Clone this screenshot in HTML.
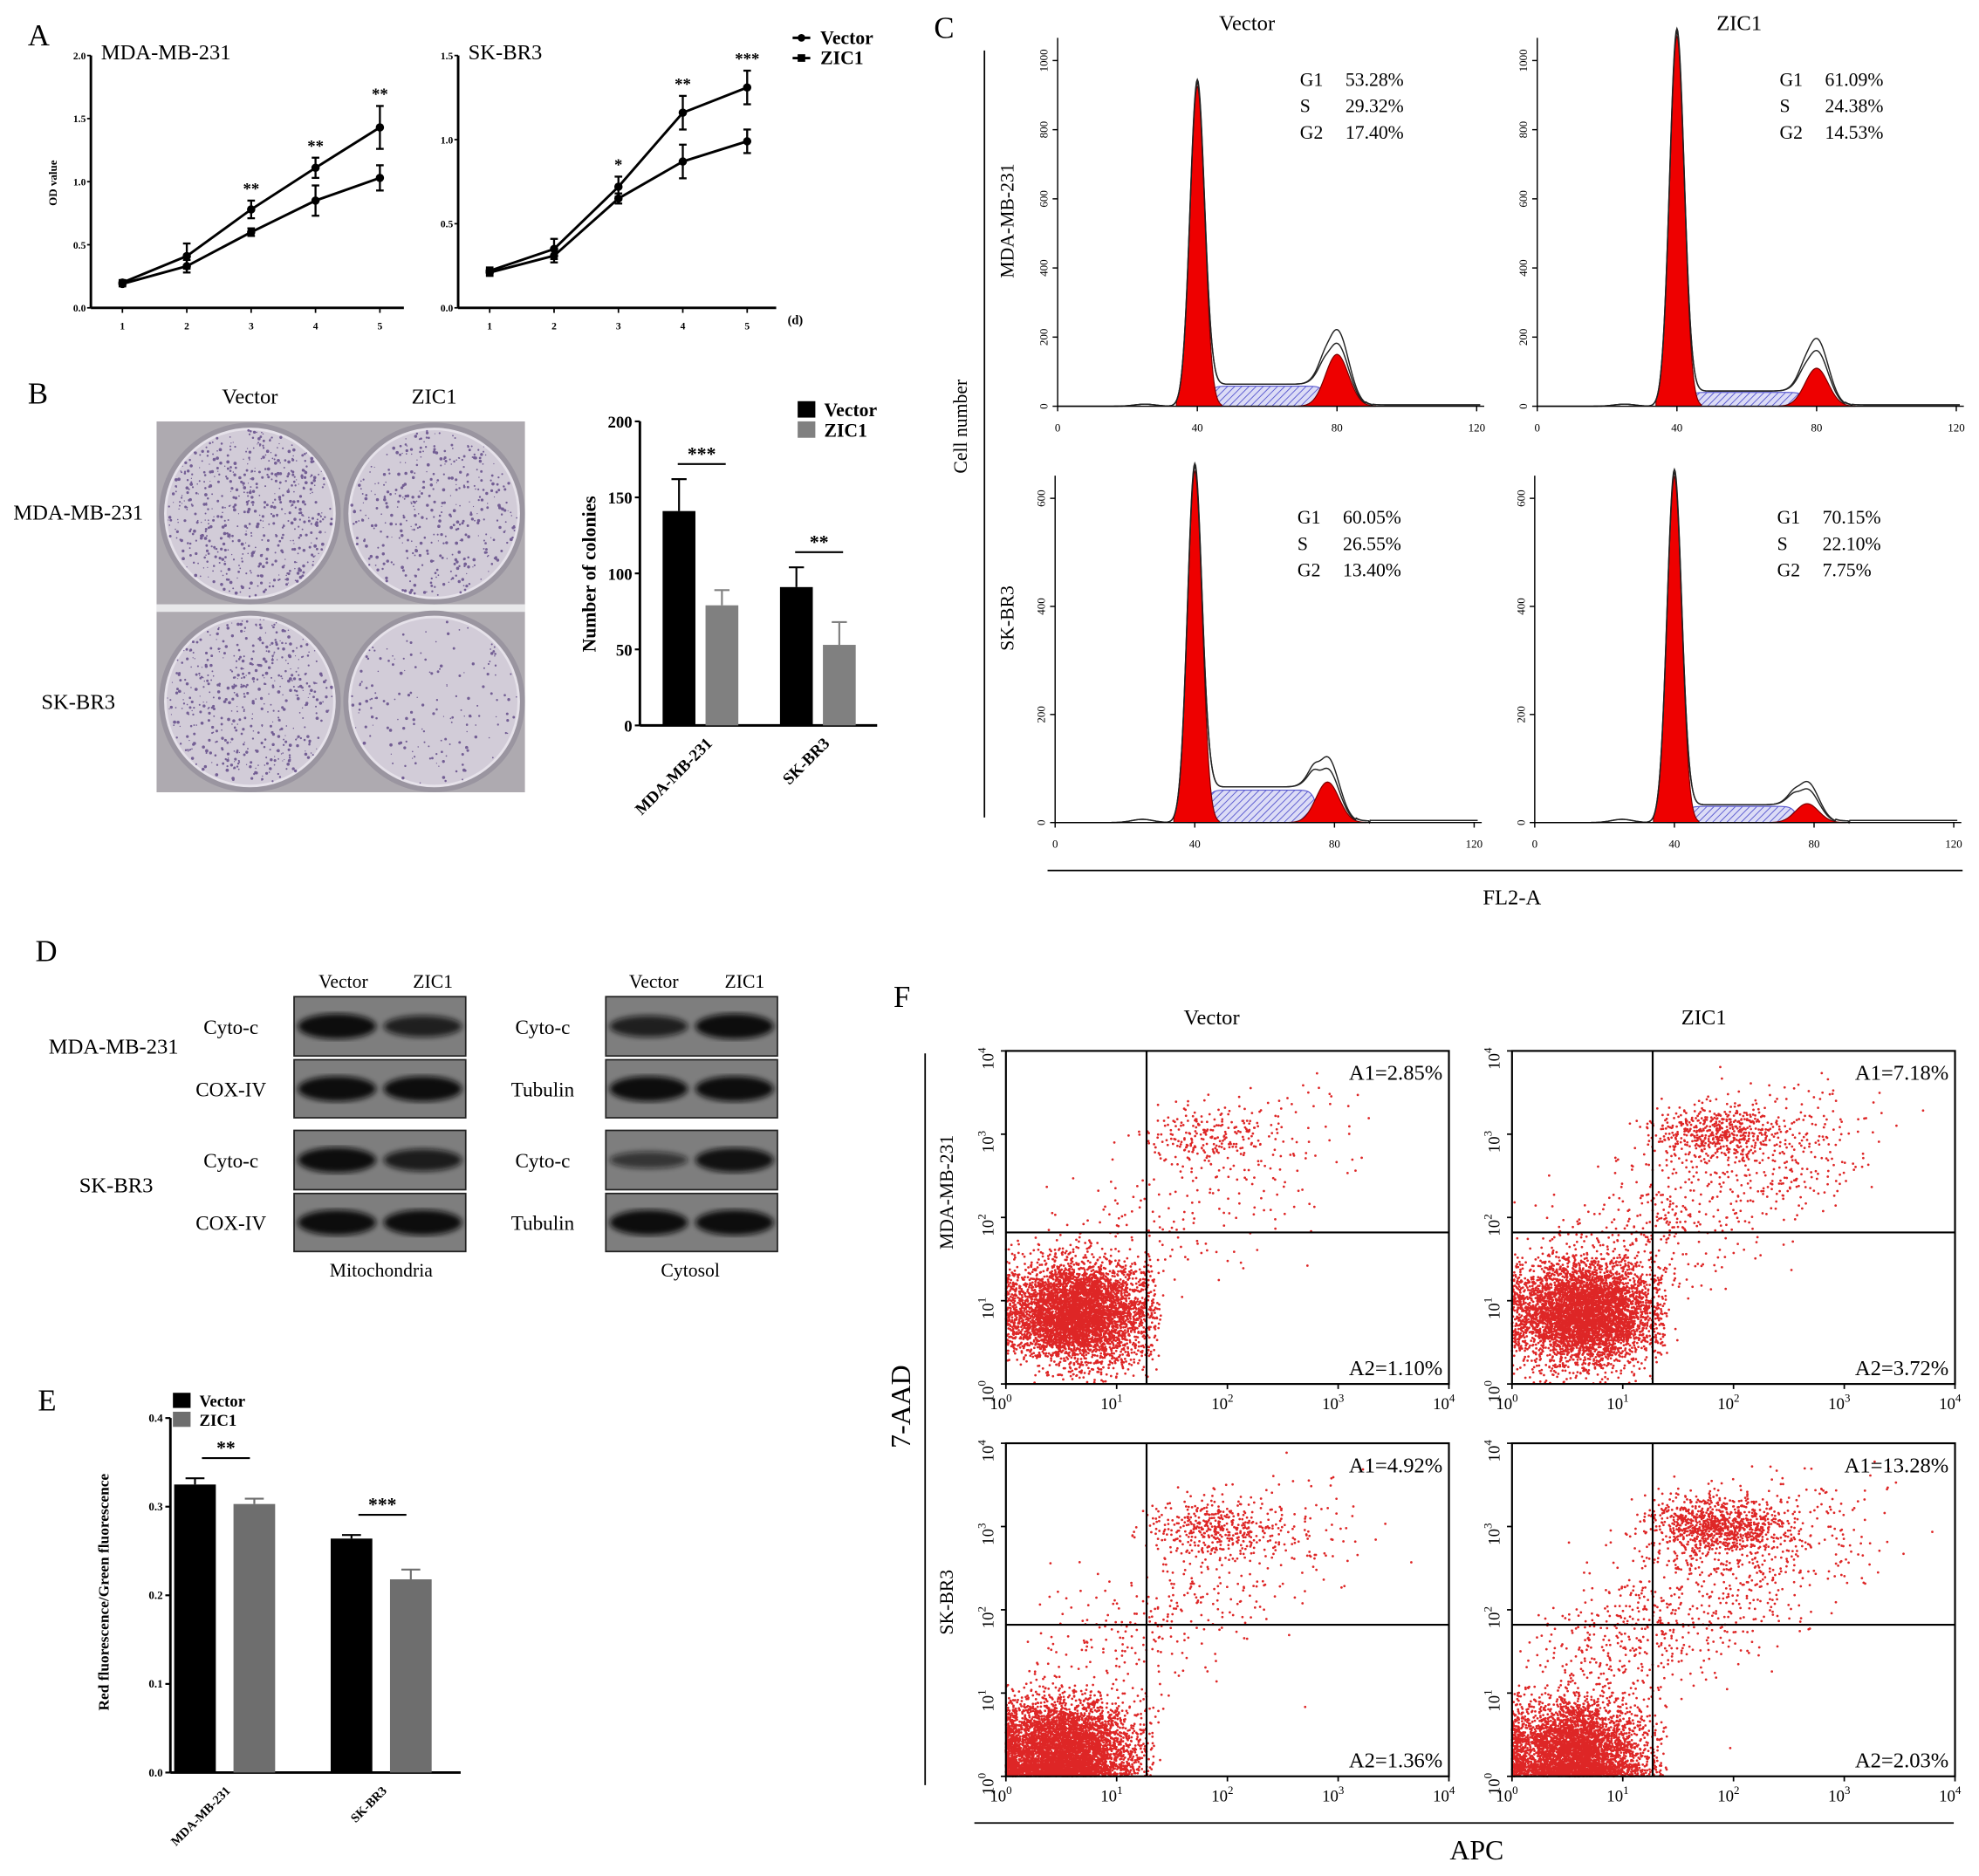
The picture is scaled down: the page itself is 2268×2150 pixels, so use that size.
<!DOCTYPE html>
<html><head><meta charset="utf-8">
<style>
html,body{margin:0;padding:0;background:#fff;}
svg{display:block;font-family:"Liberation Serif",serif;}
</style></head>
<body>
<svg id="fig" width="2268" height="2150" viewBox="0 0 1568 1487" preserveAspectRatio="none" xmlns="http://www.w3.org/2000/svg">
<defs>
<pattern id="hatchBlue" patternUnits="userSpaceOnUse" width="4" height="4" patternTransform="rotate(45)">
<rect width="4" height="4" fill="#dcdcf6"/><line x1="0" y1="0" x2="0" y2="4" stroke="#5a5ad0" stroke-width="1.3"/>
</pattern>
<filter id="blur2"><feGaussianBlur stdDeviation="2.2"/></filter>
<filter id="blur1"><feGaussianBlur stdDeviation="0.6"/></filter>
<clipPath id="photoClip"><rect x="124" y="334" width="292" height="294"/></clipPath>
</defs>
</svg>
<script>
// ---------- DATA ----------
const daysA=[1,2,3,4,5];
const mdaVec=[0.20,0.41,0.78,1.11,1.43];
const mdaVecErr=[0.02,0.10,0.07,0.08,0.17];
const mdaZic=[0.19,0.33,0.60,0.85,1.03];
const mdaZicErr=[0.02,0.05,0.03,0.12,0.10];
const skVec=[0.22,0.35,0.72,1.16,1.31];
const skVecErr=[0.02,0.06,0.06,0.10,0.10];
const skZic=[0.21,0.31,0.65,0.87,0.99];
const skZicErr=[0.02,0.04,0.03,0.10,0.07];
const mdaStars=['','','**','**','**'];
const skStars=['','','*','**','***'];
const mdaTicks=[0,0.5,1.0,1.5,2.0];
const skTicks=[0,0.5,1.0,1.5];

const colonyCats=['MDA-MB-231','SK-BR3'];
const colonyVec=[141,91];
const colonyVecErr=[21,13];
const colonyZic=[79,53];
const colonyZicErr=[10,15];
const colonyTicks=[0,50,100,150,200];
const colonySig=['***','**'];
const dishDensity=[600,420,520,170];

const histG1=[925,1070,650,640];
const histG2=[150,110,75,35];
const histG2Outline=[220,195,120,75];
const histS=[58,40,60,30];
const histG2Center=[80,80,78,78];
const histStatsG1=['53.28%','61.09%','60.05%','70.15%'];
const histStatsS=['29.32%','24.38%','26.55%','22.10%'];
const histStatsG2=['17.40%','14.53%','13.40%','7.75%'];
const histTopTicks=[0,200,400,600,800,1000];
const histBotTicks=[0,200,400,600];
const histXTicks=[0,40,80,120];

const blotLeftIntensity=[[1.0,0.75],[1.0,1.0],[1.0,0.8],[1.0,1.0]];
const blotRightIntensity=[[0.75,1.0],[1.0,1.0],[0.45,0.95],[1.0,1.0]];

const mmpCats=['MDA-MB-231','SK-BR3'];
const mmpVec=[0.325,0.264];
const mmpVecErr=[0.007,0.004];
const mmpZic=[0.303,0.218];
const mmpZicErr=[0.006,0.011];
const mmpTicks=[0,0.1,0.2,0.3,0.4];
const mmpSig=['**','***'];

const scatA1=['A1=2.85%','A1=7.18%','A1=4.92%','A1=13.28%'];
const scatA2=['A2=1.10%','A2=3.72%','A2=1.36%','A2=2.03%'];
const scatMainN=[5000,5000,5200,4200];
const scatMainCx=[0.65,0.65,0.5,0.55];
const scatMainCy=[0.85,0.85,0.3,0.3];
const scatUpperN=[220,520,380,900];
const scatSparseN=[260,700,420,900];

// ---------- HELPERS ----------
const NS='http://www.w3.org/2000/svg';
const svg=document.getElementById('fig');
function mk(tag,attrs,name,parent){
  const el=document.createElementNS(NS,tag);
  for(const k in attrs) el.setAttribute(k,attrs[k]);
  
  
  (parent||svg).appendChild(el);
  return el;
}
function txt(x,y,s,size,name,opt){
  opt=opt||{};
  const a={x:x,y:y,'font-size':size,fill:opt.fill||'#000'};
  if(opt.anchor)a['text-anchor']=opt.anchor;
  if(opt.bold)a['font-weight']='bold';
  if(opt.rot!==undefined)a.transform='rotate('+opt.rot+' '+x+' '+y+')';
  const t=mk('text',a,name,opt.parent);
  t.textContent=s;
  return t;
}
function line(x1,y1,x2,y2,name,w,col,parent){
  return mk('line',{x1:x1,y1:y1,x2:x2,y2:y2,stroke:col||'#000','stroke-width':w||1.5},name,parent);
}
let seed=12345;
function rnd(){seed|=0;seed=seed+0x6D2B79F5|0;let t=Math.imul(seed^seed>>>15,1|seed);t=t+Math.imul(t^t>>>7,61|t)^t;return((t^t>>>14)>>>0)/4294967296;}
function gauss(){let u=0,v=0;while(u===0)u=rnd();while(v===0)v=rnd();return Math.sqrt(-2*Math.log(u))*Math.cos(2*Math.PI*v);}

// panel letters
[['A',22,36],['B',22,320],['C',740,30],['D',28,762],['E',30,1118],['F',708,798]].forEach(p=>txt(p[1],p[2],p[0],24,'panel-label-'+p[0].toLowerCase(),{}));

// ---------- PANEL A ----------
function lineChart(ax,x1,yTopVal,ticks,vec,vecE,zic,zicE,stars,title,key){
  const y0=244,yT=44;
  const ys=v=>y0-(v/yTopVal)*(y0-yT);
  const xs=d=>ax+25+(d-1)*51;
  line(ax,yT,ax,y0,key+'-y-axis',2);
  line(ax,y0,x1,y0,key+'-x-axis',2);
  ticks.forEach(t=>{line(ax-3,ys(t),ax,ys(t),key+'-y-tick',1.2);txt(ax-4,ys(t)+3,t.toFixed(1),8,key+'-y-tick-label',{anchor:'end',bold:true});});
  daysA.forEach(d=>{line(xs(d),y0,xs(d),y0+4,key+'-x-tick',1.2);txt(xs(d),y0+17,String(d),8,key+'-x-tick-label',{anchor:'middle',bold:true});});
  [[vec,vecE,'vector'],[zic,zicE,'zic1']].forEach(s=>{
    let dstr='';
    daysA.forEach((d,i)=>{dstr+=(i?'L':'M')+xs(d)+' '+ys(s[0][i]);});
    mk('path',{d:dstr,fill:'none',stroke:'#000','stroke-width':2},key+'-line-'+s[2]);
    daysA.forEach((d,i)=>{
      const x=xs(d),yh=ys(s[0][i]+s[1][i]),yl=ys(s[0][i]-s[1][i]);
      line(x,yh,x,yl,key+'-errorbar-'+s[2],1.6);
      line(x-3,yh,x+3,yh,key+'-errorcap-'+s[2],1.6);
      line(x-3,yl,x+3,yl,key+'-errorcap-'+s[2],1.6);
      mk('circle',{cx:x,cy:ys(s[0][i]),r:3.3,fill:'#000'},key+'-point-'+s[2]);
    });
  });
  daysA.forEach((d,i)=>{if(stars[i])txt(xs(d),ys(vec[i]+vecE[i])-5,stars[i],13,key+'-significance',{anchor:'middle',bold:true});});
  txt(ax+8,47,title,17,key+'-title',{});
}
lineChart(72,320,2.0,mdaTicks,mdaVec,mdaVecErr,mdaZic,mdaZicErr,mdaStars,'MDA-MB-231','growth-mda');
lineChart(363,615,1.5,skTicks,skVec,skVecErr,skZic,skZicErr,skStars,'SK-BR3','growth-sk');
txt(45,145,'OD value',9,'growth-y-axis-title',{anchor:'middle',bold:true,rot:-90});
txt(624,257,'(d)',10,'growth-x-unit',{bold:true});
line(628,30,642,30,'legend-vector-line',2);mk('circle',{cx:635,cy:30,r:3,fill:'#000'},'legend-vector-marker');
txt(650,35,'Vector',15,'legend-vector-label',{bold:true});
line(628,46,642,46,'legend-zic1-line',2);mk('rect',{x:632,y:43,width:6,height:6,fill:'#000'},'legend-zic1-marker');
txt(650,51,'ZIC1',15,'legend-zic1-label',{bold:true});

// ---------- PANEL B photo ----------
const photo=mk('g',{'clip-path':'url(#photoClip)'},'colony-photo');
mk('rect',{x:124,y:334,width:292,height:294,fill:'#aeaab0'},'photo-background',photo);
mk('rect',{x:124,y:479,width:292,height:6,fill:'#e8e8ea'},'photo-divider',photo);
const dishC=[[198,407],[344,407],[198,556],[344,556]];
dishC.forEach((c,i)=>{
  mk('circle',{cx:c[0],cy:c[1],r:72,fill:'#9a95a0'},'dish-rim',photo);
  mk('circle',{cx:c[0],cy:c[1],r:67,fill:'#d2ccd8',stroke:'#e6e2ea','stroke-width':2},'dish',photo);
  let d='';
  for(let k=0;k<dishDensity[i];k++){
    const a=rnd()*Math.PI*2,r=66*Math.sqrt(rnd());
    const x=c[0]+r*Math.cos(a),y=c[1]+r*Math.sin(a),rr=0.4+rnd()*0.9;
    d+='M'+(x-rr)+' '+y+'a'+rr+' '+rr+' 0 1 0 '+(2*rr)+' 0a'+rr+' '+rr+' 0 1 0 '+(-2*rr)+' 0';
  }
  mk('path',{d:d,fill:'#4a2f78',opacity:0.7},'colonies',photo);
});
txt(198,320,'Vector',17,'photo-col-vector',{anchor:'middle'});
txt(344,320,'ZIC1',17,'photo-col-zic1',{anchor:'middle'});
txt(62,412,'MDA-MB-231',17,'photo-row-mda',{anchor:'middle'});
txt(62,562,'SK-BR3',17,'photo-row-sk',{anchor:'middle'});

// ---------- PANEL B bars ----------
(function(){
  const ax=507,y0=575,yT=334,vmax=200;
  const ys=v=>y0-v/vmax*(y0-yT);
  line(ax,yT,ax,y0,'colony-y-axis',2);line(ax,y0,695,y0,'colony-x-axis',2);
  colonyTicks.forEach(t=>{line(ax-4,ys(t),ax,ys(t),'colony-y-tick',1.5);txt(ax-6,ys(t)+5,String(t),13,'colony-y-tick-label',{anchor:'end',bold:true});});
  const gx=[525,618];
  colonyCats.forEach((c,i)=>{
    [[colonyVec,colonyVecErr,'#000',0,'vector'],[colonyZic,colonyZicErr,'#808080',34,'zic1']].forEach(s=>{
      const x=gx[i]+s[3],v=s[0][i],e=s[1][i];
      mk('rect',{x:x,y:ys(v),width:26,height:y0-ys(v),fill:s[2]},'colony-bar-'+s[4]+'-'+i);
      line(x+13,ys(v),x+13,ys(v+e),'colony-errorbar',1.5,s[2]);
      line(x+7,ys(v+e),x+19,ys(v+e),'colony-errorcap',1.5,s[2]);
    });
    const top=ys(Math.max(colonyVec[i]+colonyVecErr[i],colonyZic[i]+colonyZicErr[i]))-12;
    line(gx[i]+12,top,gx[i]+50,top,'colony-sig-line',1.5);
    txt(gx[i]+31,top-3,colonySig[i],15,'colony-sig-stars',{anchor:'middle',bold:true});
    txt(gx[i]+40,590,c,13,'colony-x-label',{anchor:'end',bold:true,rot:-45});
  });
  txt(472,455,'Number of colonies',15,'colony-y-axis-title',{anchor:'middle',bold:true,rot:-90});
  mk('rect',{x:632,y:318,width:14,height:13,fill:'#000'},'colony-legend-vector-swatch');
  txt(653,330,'Vector',15,'colony-legend-vector',{bold:true});
  mk('rect',{x:632,y:334,width:14,height:13,fill:'#808080'},'colony-legend-zic1-swatch');
  txt(653,346,'ZIC1',15,'colony-legend-zic1',{bold:true});
})();

// ---------- PANEL C histograms ----------
const histPanels=[
  {x0:838,x120:1170,yb:322,yt:48,vt:1000,ticks:histTopTicks},
  {x0:1218,x120:1550,yb:322,yt:48,vt:1000,ticks:histTopTicks},
  {x0:836,x120:1168,yb:652,yt:395,vt:600,ticks:histBotTicks},
  {x0:1216,x120:1548,yb:652,yt:395,vt:600,ticks:histBotTicks}];
histPanels.forEach((p,i)=>{
  const xs=c=>p.x0+c/120*(p.x120-p.x0);
  const ys=v=>p.yb-v/p.vt*(p.yb-p.yt);
  const key='hist-'+i;
  const gc=histG2Center[i];
  const g1=c=>histG1[i]*Math.exp(-Math.pow(c-40,2)/(2*2.1*2.1));
  const g2=(c,h)=>h*Math.exp(-Math.pow(c-gc,2)/(2*3.3*3.3));
  const sf=c=>{const l=1/(1+Math.exp(-(c-43)*1.2)),r=1/(1+Math.exp((c-gc+3)*1.2));return histS[i]*l*r;};
  let d='M'+xs(38)+' '+ys(0);
  for(let c=38;c<=gc+6;c+=0.5)d+='L'+xs(c)+' '+ys(sf(c));
  d+='L'+xs(gc+6)+' '+ys(0)+'Z';
  mk('path',{d:d,fill:'url(#hatchBlue)',stroke:'#5a5ad0','stroke-width':0.8},key+'-s-phase');
  [[c=>g1(c),34,47,'g1'],[c=>g2(c,histG2[i]),gc-11,gc+11,'g2']].forEach(s=>{
    let dd='M'+xs(s[1])+' '+ys(0);
    for(let c=s[1];c<=s[2];c+=0.25)dd+='L'+xs(c)+' '+ys(s[0](c));
    dd+='L'+xs(s[2])+' '+ys(0)+'Z';
    mk('path',{d:dd,fill:'#ee0000',stroke:'#700','stroke-width':0.8},key+'-'+s[3]+'-peak');
  });
  [histG2Outline[i],histG2Outline[i]*0.82].forEach((h,k)=>{
    let dd='';
    for(let c=0;c<=121;c+=0.25){
      const v=g1(c)*(1.01+k*0.01)+sf(c)*1.1+g2(c,h)+6*Math.exp(-Math.pow(c-25,2)/18)+(c>90?4:0)+(c<90&&c>gc+8?3:0);
      dd+=(c?'L':'M')+xs(c)+' '+ys(v);
    }
    mk('path',{d:dd,fill:'none',stroke:'#222','stroke-width':1},key+'-outline');
  });
  line(p.x0,p.yb-(p.yb-p.yt)-18,p.x0,p.yb,key+'-y-axis',1);
  line(p.x0,p.yb,p.x120+6,p.yb,key+'-x-axis',1);
  p.ticks.forEach(t=>{line(p.x0-4,ys(t),p.x0,ys(t),key+'-y-tick',1);txt(p.x0-8,ys(t),String(t),9,key+'-y-tick-label',{anchor:'middle',rot:-90});});
  histXTicks.forEach(t=>{line(xs(t),p.yb,xs(t),p.yb+4,key+'-x-tick',1);txt(xs(t),p.yb+20,String(t),9,key+'-x-tick-label',{anchor:'middle'});});
  const sx=p.x0+192,sy=p.yt+20;
  [['G1',histStatsG1[i]],['S',histStatsS[i]],['G2',histStatsG2[i]]].forEach((r,k)=>{
    txt(sx,sy+k*21,r[0],15,key+'-stat-name',{});
    txt(sx+36,sy+k*21,r[1],15,key+'-stat-value',{});
  });
});
txt(988,24,'Vector',17,'hist-col-vector',{anchor:'middle'});
txt(1378,24,'ZIC1',17,'hist-col-zic1',{anchor:'middle'});
txt(803,175,'MDA-MB-231',15,'hist-row-mda',{anchor:'middle',rot:-90});
txt(803,490,'SK-BR3',15,'hist-row-sk',{anchor:'middle',rot:-90});
txt(766,338,'Cell number',15,'hist-y-axis-title',{anchor:'middle',rot:-90});
line(780,40,780,648,'hist-y-bracket',1.2);
line(830,690,1555,690,'hist-x-bracket',1.2);
txt(1198,717,'FL2-A',17,'hist-x-axis-title',{anchor:'middle'});

// ---------- PANEL D blots ----------
const blotRows=[[790,837],[840,886],[896,943],[946,992]];
function blots(x,intens,labels,side){
  blotRows.forEach((r,i)=>{
    mk('rect',{x:x,y:r[0],width:136,height:r[1]-r[0],fill:'#7e7e7e',stroke:'#222','stroke-width':1.2},'blot-'+side+'-'+i);
    const g=mk('g',{filter:'url(#blur2)'},'blot-bands-'+side+'-'+i);
    intens[i].forEach((v,k)=>{
      const cx=x+34+k*68,cy=(r[0]+r[1])/2;
      mk('ellipse',{cx:cx,cy:cy,rx:31,ry:4+6*v,fill:'#111',opacity:0.4+0.6*v},'band',g);
    });
    txt(x-50,(r[0]+r[1])/2+6,labels[i],16,'blot-label-'+side+'-'+i,{anchor:'middle'});
  });
}
blots(233,blotLeftIntensity,['Cyto-c','COX-IV','Cyto-c','COX-IV'],'mito');
blots(480,blotRightIntensity,['Cyto-c','Tubulin','Cyto-c','Tubulin'],'cyto');
txt(272,783,'Vector',15,'blot-head-vector-mito',{anchor:'middle'});
txt(343,783,'ZIC1',15,'blot-head-zic1-mito',{anchor:'middle'});
txt(518,783,'Vector',15,'blot-head-vector-cyto',{anchor:'middle'});
txt(590,783,'ZIC1',15,'blot-head-zic1-cyto',{anchor:'middle'});
txt(90,835,'MDA-MB-231',17,'blot-row-mda',{anchor:'middle'});
txt(92,945,'SK-BR3',17,'blot-row-sk',{anchor:'middle'});
txt(302,1012,'Mitochondria',15,'blot-mito-label',{anchor:'middle'});
txt(547,1012,'Cytosol',15,'blot-cyto-label',{anchor:'middle'});

// ---------- PANEL E ----------
(function(){
  const ax=135,y0=1405,yT=1124,vmax=0.4;
  const ys=v=>y0-v/vmax*(y0-yT);
  line(ax,yT,ax,y0,'mmp-y-axis',2);line(ax,y0,365,y0,'mmp-x-axis',2);
  mmpTicks.forEach(t=>{line(ax-4,ys(t),ax,ys(t),'mmp-y-tick',1.5);txt(ax-6,ys(t)+3,t.toFixed(1),9,'mmp-y-tick-label',{anchor:'end',bold:true});});
  const gx=[138,262];
  mmpCats.forEach((c,i)=>{
    [[mmpVec,mmpVecErr,'#000',0,'vector'],[mmpZic,mmpZicErr,'#6e6e6e',47,'zic1']].forEach(s=>{
      const x=gx[i]+s[3],v=s[0][i],e=s[1][i];
      mk('rect',{x:x,y:ys(v),width:33,height:y0-ys(v),fill:s[2]},'mmp-bar-'+s[4]+'-'+i);
      line(x+16.5,ys(v),x+16.5,ys(v+e),'mmp-errorbar',1.5,s[2]);
      line(x+9,ys(v+e),x+24,ys(v+e),'mmp-errorcap',1.5,s[2]);
    });
    const top=ys(mmpVec[i]+mmpVecErr[i])-16;
    line(gx[i]+22,top,gx[i]+60,top,'mmp-sig-line',1.5);
    txt(gx[i]+41,top-3,mmpSig[i],15,'mmp-sig-stars',{anchor:'middle',bold:true});
    txt(gx[i]+45,1420,c,10,'mmp-x-label',{anchor:'end',bold:true,rot:-45});
  });
  txt(86,1262,'Red fluorescence/Green fluorescence',12,'mmp-y-axis-title',{anchor:'middle',bold:true,rot:-90});
  mk('rect',{x:137,y:1104,width:14,height:12,fill:'#000'},'mmp-legend-vector-swatch');
  txt(158,1115,'Vector',13,'mmp-legend-vector',{bold:true});
  mk('rect',{x:137,y:1119,width:14,height:12,fill:'#6e6e6e'},'mmp-legend-zic1-swatch');
  txt(158,1130,'ZIC1',13,'mmp-legend-zic1',{bold:true});
})();

// ---------- PANEL F scatter ----------
const scatBoxes=[[797,833],[1198,833],[797,1144],[1198,1144]];
scatBoxes.forEach((b,i)=>{
  const W=351,H=264,key='apop-'+i;
  const xs=l=>b[0]+l/4*W, ys=l=>b[1]+H-l/4*H;
  let d='';
  function dot(lx,ly){
    if(lx<0||ly<0||lx>4||ly>4)return;
    const x=xs(lx),y=ys(ly);d+='M'+x.toFixed(1)+' '+y.toFixed(1)+'h0.01';
  }
  for(let k=0;k<scatMainN[i];k++){
    let lx=scatMainCx[i]+gauss()*0.32, ly=scatMainCy[i]+gauss()*0.3;
    if(lx<0)lx=rnd()*0.1; if(ly<0)ly=rnd()*0.15;
    if(lx>1.35)lx=1.2+rnd()*0.2;
    dot(lx,ly);
  }
  for(let k=0;k<scatUpperN[i];k++)dot(1.85+gauss()*0.3,3.0+gauss()*0.18);
  for(let k=0;k<scatSparseN[i];k++){const t=rnd();dot(0.5+t*2.4+gauss()*0.35,1.2+t*1.9+gauss()*0.4);}
  mk('path',{d:d,stroke:'#d80000','stroke-width':1.9,fill:'none','stroke-linecap':'round',opacity:0.85},key+'-dots');
  mk('rect',{x:b[0],y:b[1],width:W,height:H,fill:'none',stroke:'#000','stroke-width':1.5},key+'-frame');
  line(xs(1.27),b[1],xs(1.27),b[1]+H,key+'-quadrant-v',1.5);
  line(b[0],ys(1.82),b[0]+W,ys(1.82),key+'-quadrant-h',1.5);
  txt(b[0]+W-5,b[1]+23,scatA1[i],17,key+'-a1',{anchor:'end'});
  txt(b[0]+W-5,b[1]+H-7,scatA2[i],17,key+'-a2',{anchor:'end'});
  for(let e=0;e<=4;e++){
    const tx=txt(xs(e)-4,b[1]+H+20,'10',13,key+'-x-tick-label',{anchor:'middle'});
    const sp=mk('tspan',{dy:-6,'font-size':9},key+'-x-tick-exp',tx);sp.textContent=String(e);
    line(xs(e),b[1]+H,xs(e),b[1]+H+4,key+'-x-tick',1.2);
    const ty=txt(b[0]-10,ys(e)+6,'10',13,key+'-y-tick-label',{anchor:'middle',rot:-90});
    const sq=mk('tspan',{dy:-6,'font-size':9},key+'-y-tick-exp',ty);sq.textContent=String(e);
    line(b[0]-4,ys(e),b[0],ys(e),key+'-y-tick',1.2);
  }
});
txt(960,812,'Vector',17,'apop-col-vector',{anchor:'middle'});
txt(1350,812,'ZIC1',17,'apop-col-zic1',{anchor:'middle'});
txt(755,945,'MDA-MB-231',15,'apop-row-mda',{anchor:'middle',rot:-90});
txt(755,1270,'SK-BR3',15,'apop-row-sk',{anchor:'middle',rot:-90});
line(733,835,733,1415,'apop-y-bracket',1.2);
line(772,1445,1548,1445,'apop-x-bracket',1.2);
txt(721,1115,'7-AAD',22,'apop-y-axis-title',{anchor:'middle',rot:-90});
txt(1170,1474,'APC',22,'apop-x-axis-title',{anchor:'middle'});
</script>
</body></html>
